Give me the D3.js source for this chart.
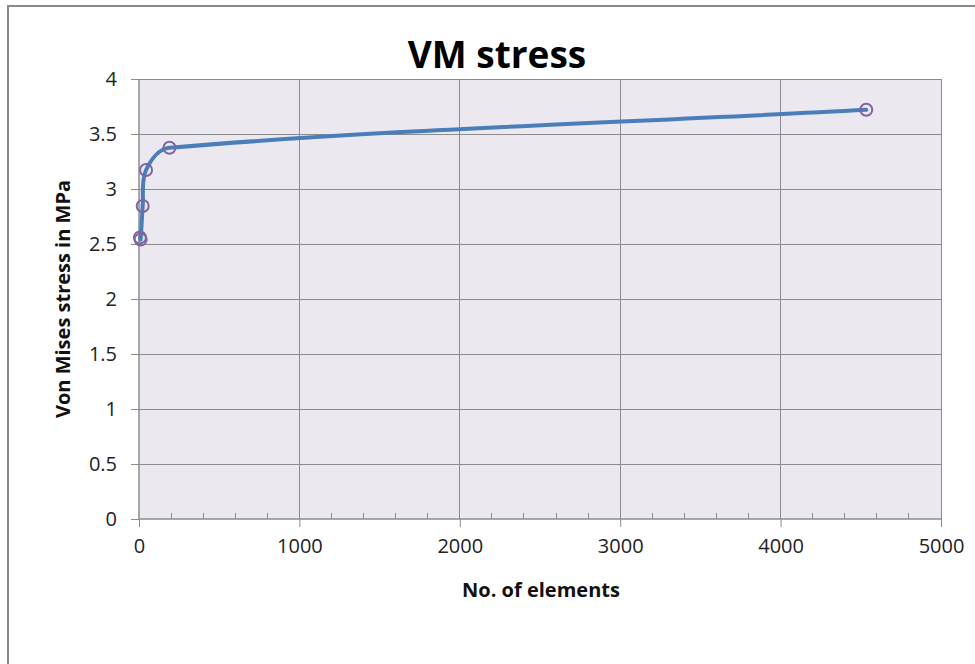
<!DOCTYPE html>
<html>
<head>
<meta charset="utf-8">
<script src="https://cdn.jsdelivr.net/npm/d3@7"></script>
<style>
  html, body { margin: 0; padding: 0; background: #fff; }
  svg { display: block; }
  text { font-family: "Open Sans", "DejaVu Sans", sans-serif; }
</style>
</head>
<body>
<svg id="chart" width="975" height="664"></svg>
<script>
// Mesh convergence: peak Von Mises stress vs. number of elements
const elements = [6, 10, 23, 44, 190, 4534];
const stress   = [2.56, 2.54, 2.845, 3.173, 3.375, 3.72];

const xTicks = [0, 1000, 2000, 3000, 4000, 5000];
const yTicks = [0, 0.5, 1, 1.5, 2, 2.5, 3, 3.5, 4];

const titleText = "VM stress";
const xLabel = "No. of elements";
const yLabel = "Von Mises stress in MPa";

const svg = d3.select("#chart");
const W = 975, H = 664;

// outer chart frame
svg.append("rect")
  .attr("x", 8).attr("y", 6)
  .attr("width", W + 20).attr("height", H + 20)
  .attr("fill", "#fff")
  .attr("stroke", "#8a8a8a").attr("stroke-width", 2);

const plot = { left: 139, right: 941, top: 79, bottom: 519 };

const x = d3.scaleLinear().domain([0, 5000]).range([plot.left, plot.right]);
const y = d3.scaleLinear().domain([0, 4]).range([plot.bottom, plot.top]);

// plot background
svg.append("rect")
  .attr("x", plot.left).attr("y", plot.top)
  .attr("width", plot.right - plot.left).attr("height", plot.bottom - plot.top)
  .attr("fill", "#ebe9ef");

// gridlines
const grid = svg.append("g").attr("stroke", "#8c8c8c").attr("stroke-width", 1).attr("shape-rendering", "crispEdges");
grid.selectAll(".gy").data(yTicks.filter(d => d > 0)).join("line")
  .attr("x1", plot.left).attr("x2", plot.right)
  .attr("y1", d => y(d)).attr("y2", d => y(d));
grid.selectAll(".gx").data(xTicks.filter(d => d > 0)).join("line")
  .attr("x1", d => x(d)).attr("x2", d => x(d))
  .attr("y1", plot.top).attr("y2", plot.bottom);

// x axis
const xAxis = svg.append("g")
  .attr("transform", `translate(0,${plot.bottom})`)
  .call(d3.axisBottom(x).tickValues(xTicks).tickFormat(d3.format("d")).tickSize(8).tickPadding(12));
// minor ticks pointing inward
const minor = d3.range(0, 5001, 200).filter(d => d % 1000 !== 0);
svg.append("g").attr("stroke", "#8c8c8c").attr("shape-rendering", "crispEdges")
  .selectAll("line").data(minor).join("line")
  .attr("x1", d => x(d)).attr("x2", d => x(d))
  .attr("y1", plot.bottom).attr("y2", plot.bottom - 6);

// y axis
const yAxis = svg.append("g")
  .attr("transform", `translate(${plot.left},0)`)
  .call(d3.axisLeft(y).tickValues(yTicks).tickFormat(d => String(d)).tickSize(8).tickPadding(14));

[xAxis, yAxis].forEach(a => {
  a.select(".domain").attr("stroke", "#8c8c8c").attr("stroke-width", 1.5);
  a.selectAll(".tick line").attr("stroke", "#8c8c8c");
  a.selectAll(".tick text").attr("fill", "#222").attr("font-size", 20);
});
xAxis.select(".domain").attr("d", `M${plot.left},0H${plot.right}`);
yAxis.select(".domain").attr("d", `M0,${plot.bottom}V${plot.top}`);

// smoothed line: cubic Bezier segments whose tangents follow the
// neighbouring points, scaled by segment length so short hops don't loop
function smoothPath(pts) {
  const p = d3.path();
  const n = pts.length;
  const dist = (a, b) => Math.hypot(b[0] - a[0], b[1] - a[1]) || 1e-9;
  p.moveTo(pts[0][0], pts[0][1]);
  for (let i = 0; i < n - 1; i++) {
    const p0 = pts[Math.max(i - 1, 0)], p1 = pts[i], p2 = pts[i + 1], p3 = pts[Math.min(i + 2, n - 1)];
    const d12 = dist(p1, p2);
    const k1 = d12 / dist(p0, p2) / 3;
    const k2 = d12 / dist(p1, p3) / 3;
    p.bezierCurveTo(
      p1[0] + (p2[0] - p0[0]) * k1, p1[1] + (p2[1] - p0[1]) * k1,
      p2[0] - (p3[0] - p1[0]) * k2, p2[1] - (p3[1] - p1[1]) * k2,
      p2[0], p2[1]);
  }
  return p.toString();
}

const pixelPts = elements.map((e, i) => [x(e), y(stress[i])]);

svg.append("path")
  .attr("d", smoothPath(pixelPts))
  .attr("fill", "none")
  .attr("stroke", "#4a7ebb")
  .attr("stroke-width", 4)
  .attr("stroke-linecap", "round");

// markers
svg.append("g").selectAll("circle").data(stress).join("circle")
  .attr("cx", (d, i) => x(elements[i]))
  .attr("cy", d => y(d))
  .attr("r", 6)
  .attr("fill", "none")
  .attr("stroke", "#8064a2")
  .attr("stroke-width", 2);

// titles
svg.append("text")
  .attr("x", 497).attr("y", 68)
  .attr("text-anchor", "middle")
  .attr("font-size", 37).attr("font-weight", "bold")
  .attr("fill", "#000")
  .text(titleText);

svg.append("text")
  .attr("x", 541).attr("y", 597)
  .attr("text-anchor", "middle")
  .attr("font-size", 20).attr("font-weight", "bold")
  .attr("fill", "#111")
  .text(xLabel);

svg.append("text")
  .attr("transform", `translate(70,${(plot.top + plot.bottom) / 2}) rotate(-90)`)
  .attr("text-anchor", "middle")
  .attr("font-size", 20).attr("font-weight", "bold")
  .attr("fill", "#111")
  .text(yLabel);
</script>
</body>
</html>
